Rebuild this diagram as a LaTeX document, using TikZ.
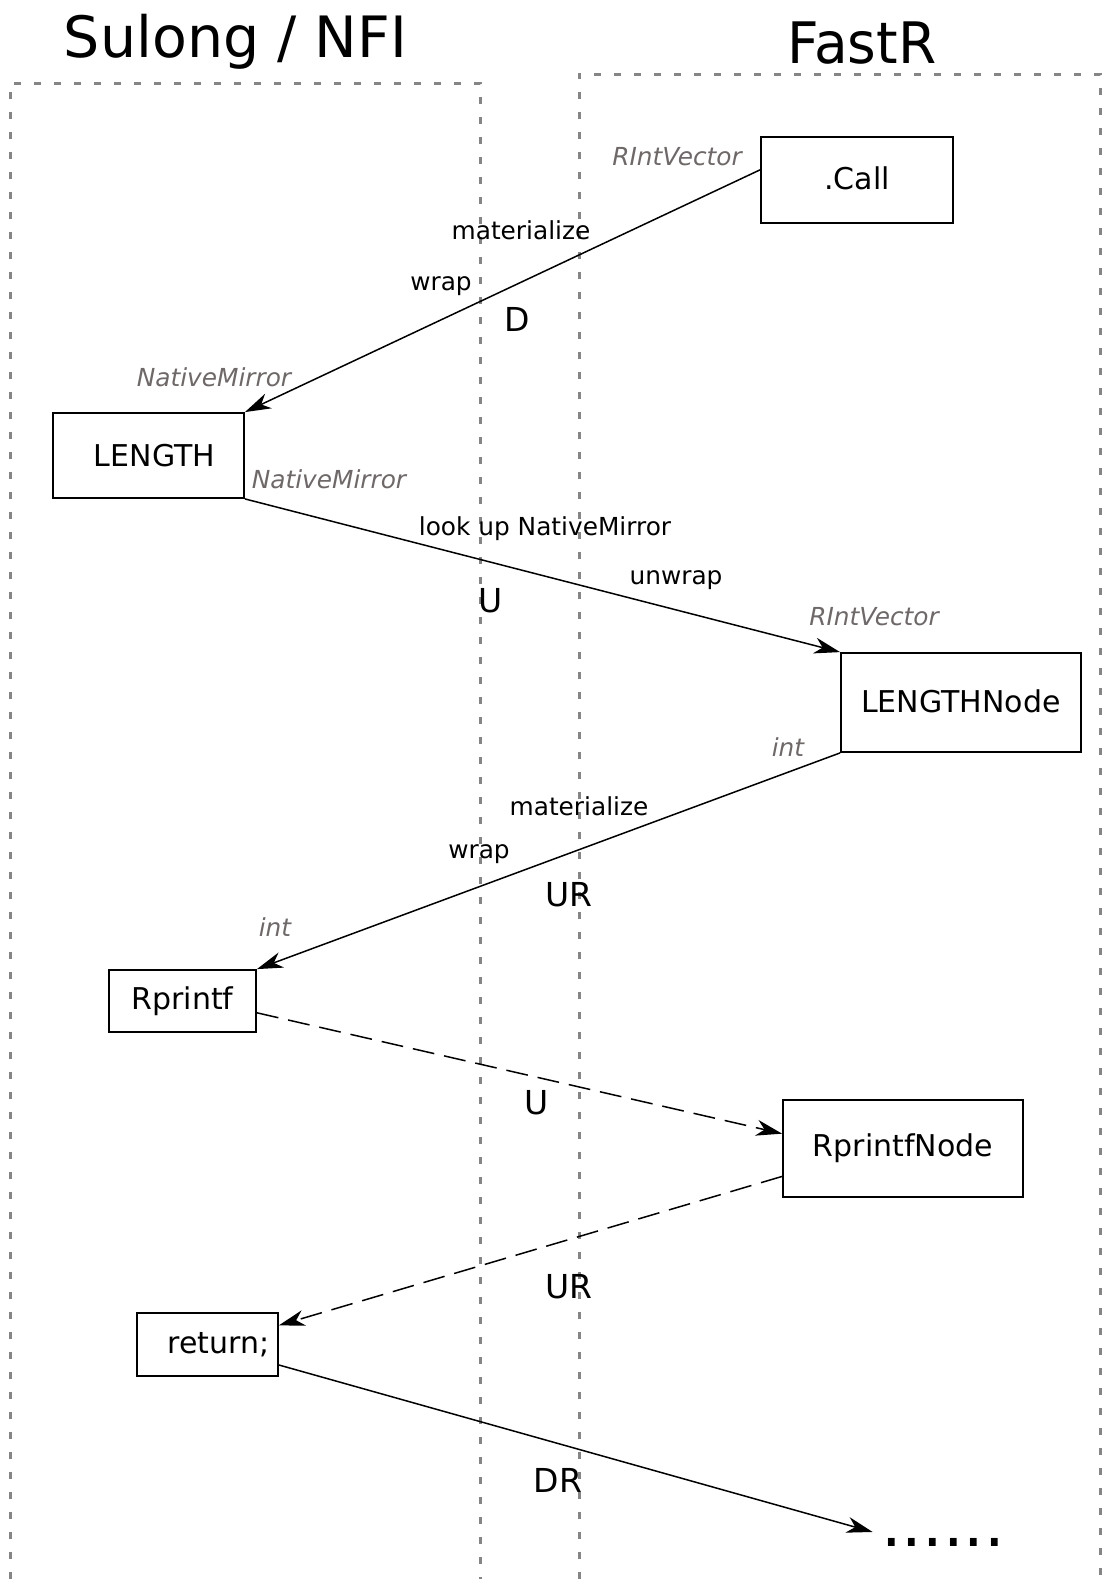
\documentclass[tikz,border=0pt]{standalone}
\usepackage{fontspec}
\setmainfont{DejaVu Sans}
\usetikzlibrary{arrows.meta, positioning, calc}
\definecolor{lanegrey}{HTML}{858585}
\definecolor{typegrey}{HTML}{6E6868}

\begin{document}
\begin{tikzpicture}[x=0.5pt, y=-0.5pt,
    box/.style={draw, line width=0.9pt, inner sep=0pt,
                font=\fontsize{15}{18}\selectfont},
    lane/.style={lanegrey, line width=1.5pt, dash pattern=on 3.5pt off 6.5pt},
    hop/.style={line width=0.75pt,
                -{Stealth[length=13pt, width=8pt, inset=4pt]}},
    backhop/.style={hop, dash pattern=on 11pt off 5pt},
    note/.style={inner sep=0pt, font=\fontsize{12.4}{15}\selectfont},
    kind/.style={note, font=\fontsize{12.4}{15}\selectfont\itshape, text=typegrey},
    dir/.style={inner sep=0pt, font=\fontsize{16.5}{20}\selectfont}]
  \useasboundingbox (0,0) rectangle (1103,1579);

  % the two sides
  \draw[lane] (10,1579) -- (10,83) -- (480,83) -- (480,1579);
  \draw[lane] (579,1579) -- (579,74) -- (1100,74) -- (1100,1579);
  \node[anchor=base, font=\fontsize{28.5}{34}\selectfont] (sulong)
    at (235.5,57) {Sulong / NFI};
  \node[anchor=base, font=\fontsize{27.5}{33}\selectfont] (fastr)
    at (862,63) {\scalebox{1}[1.04]{FastR}};

  % calls
  \node[box, minimum width=96pt, minimum height=43pt] (dotcall) at (857,180) {\raisebox{2pt}{.Call}};
  \node[box, minimum width=95.5pt, minimum height=42.5pt] (length) at (148.5,455.5) {\hspace{6pt}LENGTH};
  \node[box, minimum width=120pt, minimum height=49.5pt] (lengthnode) at (961,702.5) {\raisebox{1pt}{LENGTHNode}};
  \node[box, minimum width=73.5pt, minimum height=31pt] (rprintf) at (182.5,1001) {\raisebox{1pt}{Rprintf}};
  \node[box, minimum width=120pt, minimum height=48.5pt] (rprintfnode) at (903,1148.5) {RprintfNode};
  \node[box, minimum width=70.5pt, minimum height=31.5pt] (retstmt) at (207.5,1344.5) {\hspace{11pt}return;};
  \node[inner sep=0pt, anchor=base, font=\fontsize{32.5}{38}\selectfont] (more)
    at (943,1546) {......};

  \draw[hop] (dotcall.174) -- (length.north east);
  \draw[hop] (length.south east) -- (lengthnode.north west);
  \draw[hop] (lengthnode.south west) -- (rprintf.north east);
  \draw[backhop] (rprintf.-9) -- (rprintfnode.173);
  \draw[backhop] (rprintfnode.193) -- (retstmt.15);
  \draw[hop] (retstmt.-16) -- ([shift={(-8,-10)}]more.west);

  % what travels along
  \node[kind] (t1) at (677,157) {RIntVector};
  \node[note] (m1) at (521,230) {materialize};
  \node[note] (w1) at (441,286) {wrap};
  \node[dir] (d1) at (517,319) {D};
  \node[kind] (t2) at (214,377) {NativeMirror};
  \node[kind] (t3) at (329,479) {NativeMirror};
  \node[note] (l1) at (545,529) {look up NativeMirror};
  \node[note] (u1) at (676,580) {unwrap};
  \node[dir] (d2) at (491,601) {U};
  \node[kind] (t4) at (874,617) {RIntVector};
  \node[kind] (t5) at (788,747) {int};
  \node[note] (m2) at (579,806) {materialize};
  \node[note] (w2) at (479,854) {wrap};
  \node[dir] (d3) at (569,895) {UR};
  \node[kind] (t6) at (275,927) {int};
  \node[dir] (d4) at (537,1103) {U};
  \node[dir] (d5) at (569,1287) {UR};
  \node[dir] (d6) at (558,1480) {DR};
\end{tikzpicture}
\end{document}
